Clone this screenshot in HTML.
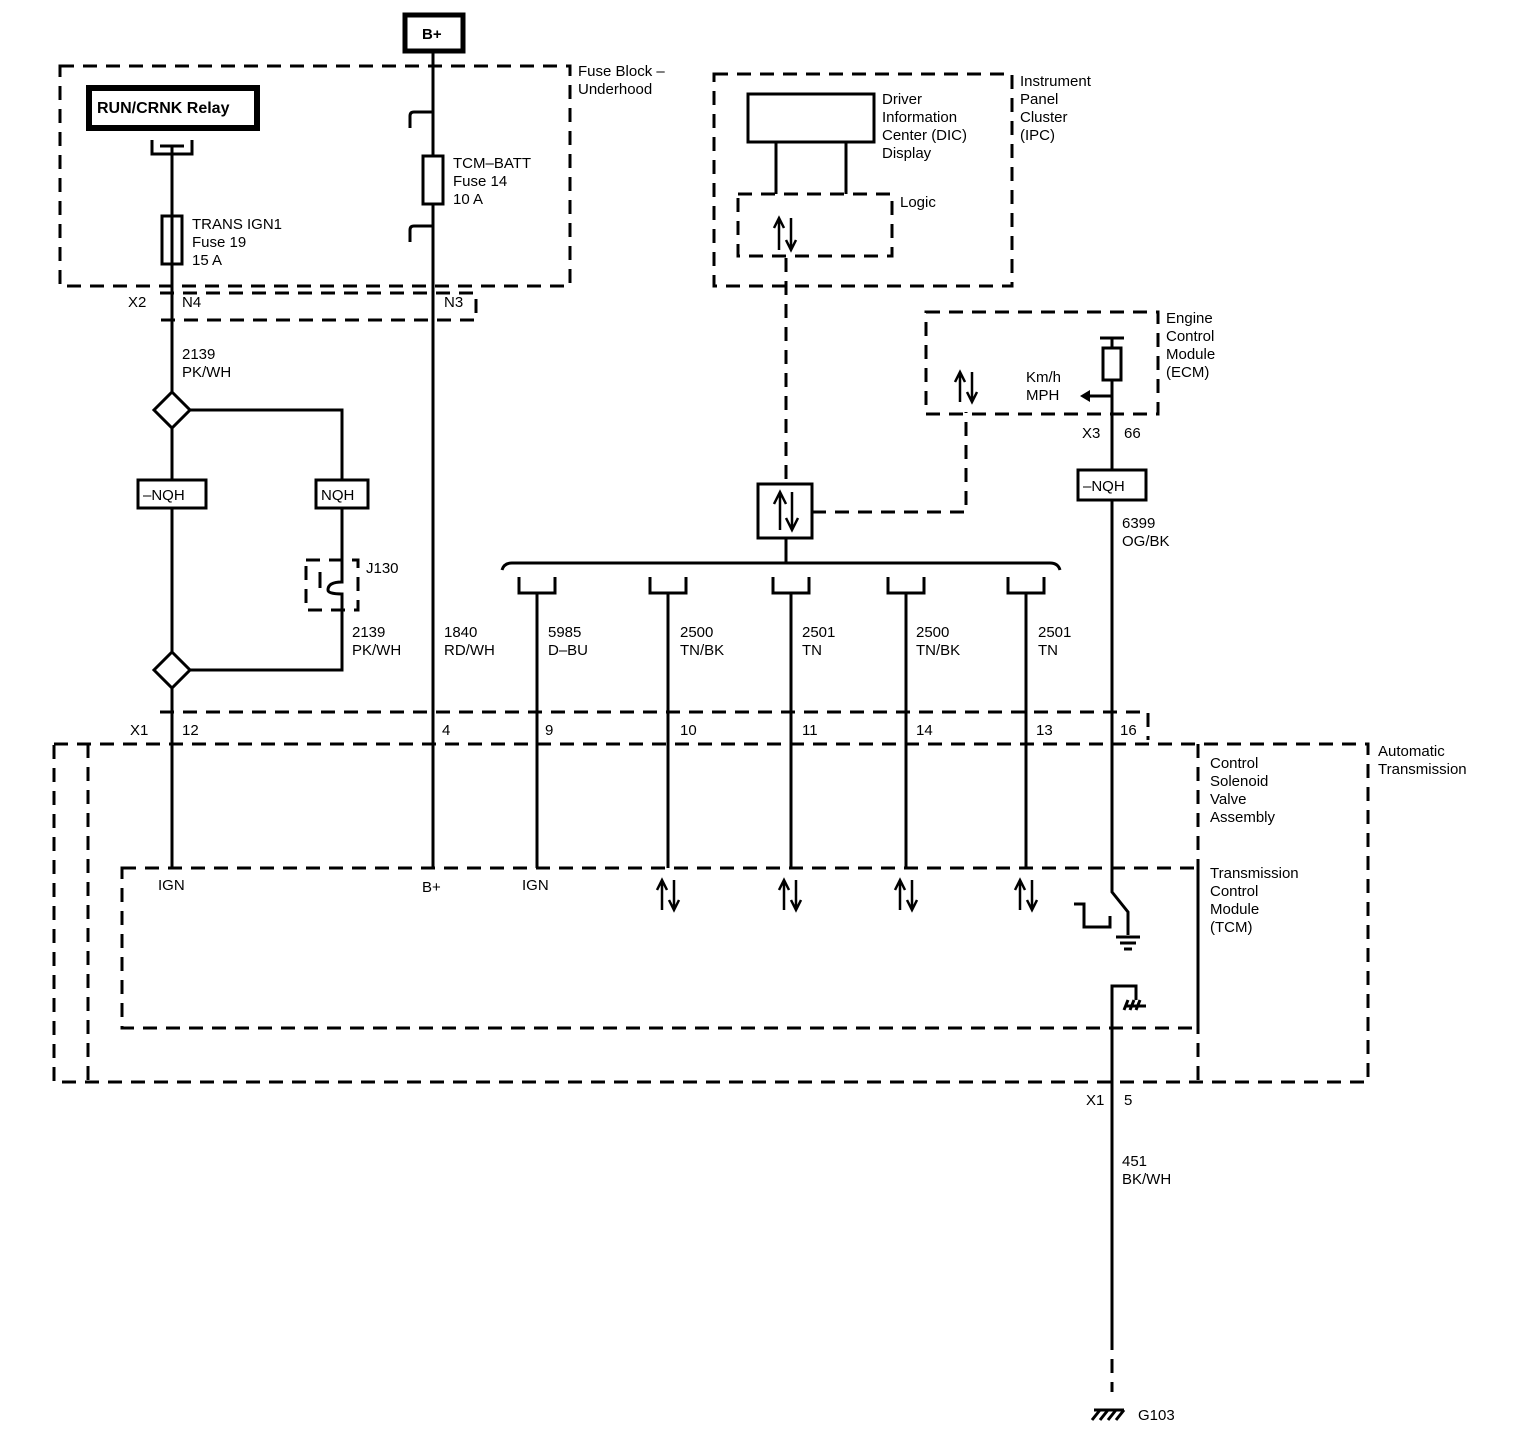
<!DOCTYPE html>
<html><head><style>
html,body{margin:0;padding:0;background:#fff;}
svg{display:block;}
text{font-family:"Liberation Sans",sans-serif;font-size:15px;fill:#000;}
</style></head><body>
<svg width="1516" height="1454" viewBox="0 0 1516 1454" xmlns="http://www.w3.org/2000/svg">
<g fill="none" stroke="#000" stroke-width="3">
<!-- B+ box -->
<rect x="405" y="15" width="58" height="36" stroke-width="5"/>
<!-- fuse block dashed -->
<g stroke-dasharray="14,9">
<rect x="60" y="66" width="510" height="220"/>
<path d="M160 293 H476 V320 H160"/>
<rect x="714" y="74" width="298" height="212"/>
<rect x="738" y="194" width="154" height="62"/>
<rect x="926" y="312" width="232" height="102"/>
<path d="M786 258 V484"/>
<path d="M812 512 H966 V412"/>
<path d="M160 712 H1148 V740"/>
<rect x="54" y="744" width="1314" height="338"/>
<path d="M88 744 V1082"/>
<path d="M1198 744 V1082"/>
<rect x="122" y="868" width="1076" height="160"/>
<rect x="306" y="560" width="52" height="50"/>
<path d="M1112 1336 V1392"/>
</g>
<!-- relay -->
<rect x="89" y="88" width="168" height="40" stroke-width="6"/>
<path d="M152 140 V154 H192 V140 M160 146 H184"/>
<path d="M172 146 V868"/>
<rect x="162" y="216" width="20" height="48"/>
<!-- B+ wire -->
<path d="M433 52 V868"/>
<path d="M410 128 V116 Q410 112 414 112 H433"/>
<path d="M410 242 V230 Q410 226 414 226 H433"/>
<rect x="423" y="156" width="20" height="48" fill="#fff"/>
<!-- splices -->
<path d="M172 392 L190 410 L172 428 L154 410 Z" fill="#fff"/>
<path d="M172 652 L190 670 L172 688 L154 670 Z" fill="#fff"/>
<path d="M190 410 H342 V560 M342 610 V670 H190"/>
<path d="M342 560 V582 Q328 582 328 590 M342 610 V594 Q328 594 328 590" stroke-width="3"/>
<path d="M320 572 V588"/>
<rect x="138" y="480" width="68" height="28" fill="#fff"/>
<rect x="316" y="480" width="52" height="28" fill="#fff"/>
<!-- IPC -->
<rect x="748" y="94" width="126" height="48"/>
<path d="M776 142 V194 M846 142 V194"/>
<!-- module with arrows -->
<rect x="758" y="484" width="54" height="54"/>
<!-- brace -->
<path d="M502 570 Q504 563 512 563 H1050 Q1058 563 1060 570"/>
<path d="M786 563 V538"/>
<g>
<path d="M519 577 V593 H555 V577 M537 593 V868"/>
<path d="M650 577 V593 H686 V577 M668 593 V868"/>
<path d="M773 577 V593 H809 V577 M791 593 V868"/>
<path d="M888 577 V593 H924 V577 M906 593 V868"/>
<path d="M1008 577 V593 H1044 V577 M1026 593 V868"/>
</g>
<!-- ECM -->
<path d="M1100 338 H1124 M1112 338 V348"/>
<rect x="1103" y="348" width="18" height="32"/>
<path d="M1112 380 V892 L1128 912 V935"/>
<path d="M1112 396 H1088"/>
<rect x="1078" y="470" width="68" height="30" fill="#fff"/>
<path d="M1074 904 H1084 V927 H1110 V916"/>
<path d="M1116 937 H1140 M1120 943 H1136 M1124 949 H1132"/>
<path d="M1112 1336 V986 H1136 V1000"/>
<path d="M1126 1006 H1146 M1128 1000 L1124 1010 M1134 1000 L1130 1010 M1140 1000 L1136 1010"/>
<!-- G103 -->
<path d="M1094 1410 H1124 M1100 1410 L1092 1420 M1108 1410 L1100 1420 M1116 1410 L1108 1420 M1124 1410 L1116 1420"/>
</g>
<path d="M1080 396 L1090 390 L1090 402 Z" fill="#000"/>
<!-- arrows -->
<g fill="none" stroke="#000" stroke-width="2.5">
<path d="M779 250 V220 M774 228 L779 218 L784 228 M791 218 V248 M786 240 L791 250 L796 240"/>
<path d="M780 530 V494 M774 504 L780 492 L786 504 M792 492 V528 M786 518 L792 530 L798 518"/>
<path d="M960 402 V374 M955 382 L960 372 L965 382 M972 372 V400 M967 392 L972 402 L977 392"/>
<path d="M662 910 V882 M657 890 L662 880 L667 890 M674 880 V908 M669 900 L674 910 L679 900"/>
<path d="M784 910 V882 M779 890 L784 880 L789 890 M796 880 V908 M791 900 L796 910 L801 900"/>
<path d="M900 910 V882 M895 890 L900 880 L905 890 M912 880 V908 M907 900 L912 910 L917 900"/>
<path d="M1020 910 V882 M1015 890 L1020 880 L1025 890 M1032 880 V908 M1027 900 L1032 910 L1037 900"/>
</g>
<!-- text -->
<text x="422" y="39" style="font-weight:bold">B+</text>
<text x="97" y="113" style="font-weight:bold;font-size:16px">RUN/CRNK Relay</text>
<text x="578" y="76">Fuse Block –</text>
<text x="578" y="94">Underhood</text>
<text x="192" y="229">TRANS IGN1</text>
<text x="192" y="247">Fuse 19</text>
<text x="192" y="265">15 A</text>
<text x="453" y="168">TCM–BATT</text>
<text x="453" y="186">Fuse 14</text>
<text x="453" y="204">10 A</text>
<text x="128" y="307">X2</text>
<text x="182" y="307">N4</text>
<text x="444" y="307">N3</text>
<text x="182" y="359">2139</text>
<text x="182" y="377">PK/WH</text>
<text x="143" y="500">–NQH</text>
<text x="321" y="500">NQH</text>
<text x="366" y="573">J130</text>
<text x="352" y="637">2139</text><text x="352" y="655">PK/WH</text>
<text x="444" y="637">1840</text><text x="444" y="655">RD/WH</text>
<text x="548" y="637">5985</text><text x="548" y="655">D–BU</text>
<text x="680" y="637">2500</text><text x="680" y="655">TN/BK</text>
<text x="802" y="637">2501</text><text x="802" y="655">TN</text>
<text x="916" y="637">2500</text><text x="916" y="655">TN/BK</text>
<text x="1038" y="637">2501</text><text x="1038" y="655">TN</text>
<text x="130" y="735">X1</text>
<text x="182" y="735">12</text>
<text x="442" y="735">4</text>
<text x="545" y="735">9</text>
<text x="680" y="735">10</text>
<text x="802" y="735">11</text>
<text x="916" y="735">14</text>
<text x="1036" y="735">13</text>
<text x="1120" y="735">16</text>
<text x="1378" y="756">Automatic</text>
<text x="1378" y="774">Transmission</text>
<text x="1210" y="768">Control</text>
<text x="1210" y="786">Solenoid</text>
<text x="1210" y="804">Valve</text>
<text x="1210" y="822">Assembly</text>
<text x="1210" y="878">Transmission</text>
<text x="1210" y="896">Control</text>
<text x="1210" y="914">Module</text>
<text x="1210" y="932">(TCM)</text>
<text x="158" y="890">IGN</text>
<text x="422" y="892">B+</text>
<text x="522" y="890">IGN</text>
<text x="882" y="104">Driver</text>
<text x="882" y="122">Information</text>
<text x="882" y="140">Center (DIC)</text>
<text x="882" y="158">Display</text>
<text x="900" y="207">Logic</text>
<text x="1020" y="86">Instrument</text>
<text x="1020" y="104">Panel</text>
<text x="1020" y="122">Cluster</text>
<text x="1020" y="140">(IPC)</text>
<text x="1166" y="323">Engine</text>
<text x="1166" y="341">Control</text>
<text x="1166" y="359">Module</text>
<text x="1166" y="377">(ECM)</text>
<text x="1026" y="382">Km/h</text>
<text x="1026" y="400">MPH</text>
<text x="1082" y="438">X3</text>
<text x="1124" y="438">66</text>
<text x="1083" y="491">–NQH</text>
<text x="1122" y="528">6399</text>
<text x="1122" y="546">OG/BK</text>
<text x="1086" y="1105">X1</text>
<text x="1124" y="1105">5</text>
<text x="1122" y="1166">451</text>
<text x="1122" y="1184">BK/WH</text>
<text x="1138" y="1420">G103</text>
</svg>
</body></html>
